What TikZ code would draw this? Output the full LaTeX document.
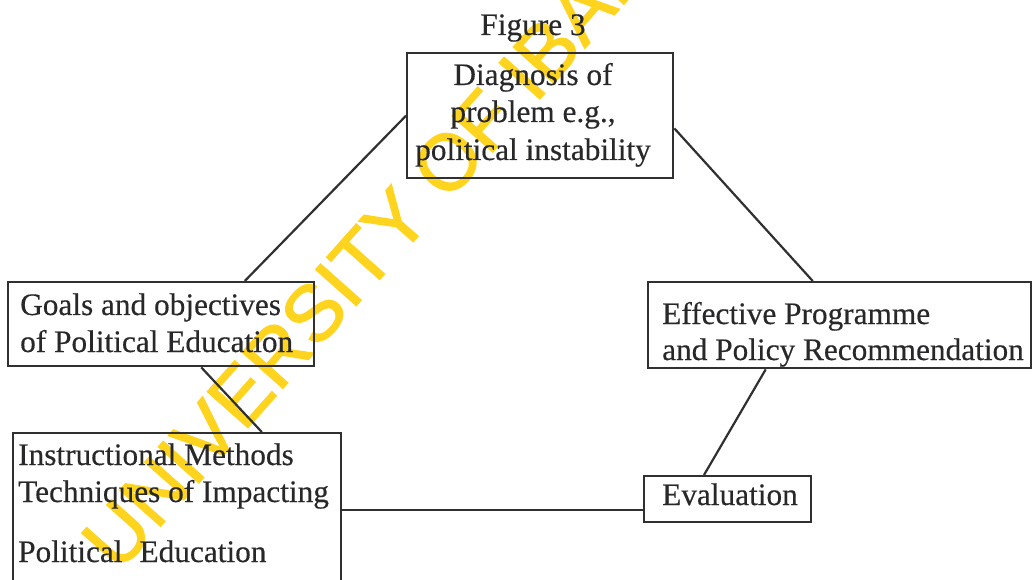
\documentclass[tikz,border=0pt]{standalone}
\usepackage{fontspec}
\setmainfont[FakeBold=0.4]{Liberation Serif}
\newfontfamily\markfont[FakeBold=1.6]{Liberation Sans}
\usetikzlibrary{calc}
\definecolor{ink}{RGB}{40,40,42}
\definecolor{rule}{RGB}{48,48,50}
\definecolor{stamp}{RGB}{254,212,30}
\begin{document}
\begin{tikzpicture}[x=1pt,y=-1pt,
  frame/.style={draw=rule, line width=2.4pt, inner sep=0pt, anchor=north west},
  link/.style={draw=rule, line width=2.2pt},
  txt/.style={text=ink, inner sep=0pt, anchor=base west, font=\fontsize{31.3}{37}\selectfont},
  ctxt/.style={txt, anchor=base},
  stampmark/.style={text=stamp, inner sep=0pt, rotate=48.4, font=\markfont\fontsize{79}{79}\selectfont}]
  \useasboundingbox (0,0) rectangle (1034,580);
  \clip (0,0) rectangle (1034,580);

  % library stamp running across the page
  \node[stampmark] (stampnode) at (404,211) {UNIVERSITY OF IBADAN};

  % boxes
  \node[frame, minimum width=266pt, minimum height=125pt] (diag) at (406,52) {};
  \node[frame, minimum width=306pt, minimum height=84pt] (goals) at (7,281) {};
  \node[frame, minimum width=383pt, minimum height=86pt] (effect) at (647,281) {};
  \node[frame, minimum width=328pt, minimum height=220pt] (instr) at (12,432) {};
  \node[frame, minimum width=167pt, minimum height=46pt] (eval) at (643,475) {};

  % title
  \node[ctxt] (title) at (533,35) {Figure 3};

  % box texts
  \node[ctxt] (diag1) at (533,85) {Diagnosis of};
  \node[ctxt] (diag2) at (533,122) {problem e.g.,};
  \node[ctxt] (diag3) at (533,160) {political instability};

  \node[txt] (goals1) at (20,315) {Goals and objectives};
  \node[txt] (goals2) at (20,352) {of Political Education};

  \node[txt] (effect1) at (662,324) {Effective Programme};
  \node[txt] (effect2) at (662,360) {and Policy Recommendation};

  \node[txt] (instr1) at (18,465) {Instructional Methods};
  \node[txt] (instr2) at (18,502) {Techniques of Impacting};
  \node[txt] (instr3) at (18,562) {Political\hspace{17pt}Education};

  \node[txt] (eval1) at (662,505) {Evaluation};

  % connectors
  \draw[link] (diag.west) -- ($(goals.north west)!0.771!(goals.north east)$);
  \draw[link] ($(diag.north east)!0.6!(diag.south east)$) -- ($(effect.north west)!0.43!(effect.north east)$);
  \draw[link] ($(goals.south west)!0.63!(goals.south east)$) -- ($(instr.north west)!0.756!(instr.north east)$);
  \draw[link] ($(effect.south west)!0.308!(effect.south east)$) -- ($(eval.north west)!0.36!(eval.north east)$);
  \coordinate (evalin) at ($(eval.north west)!0.72!(eval.south west)$);
  \draw[link] (evalin) -- (evalin -| instr.east);
\end{tikzpicture}
\end{document}
